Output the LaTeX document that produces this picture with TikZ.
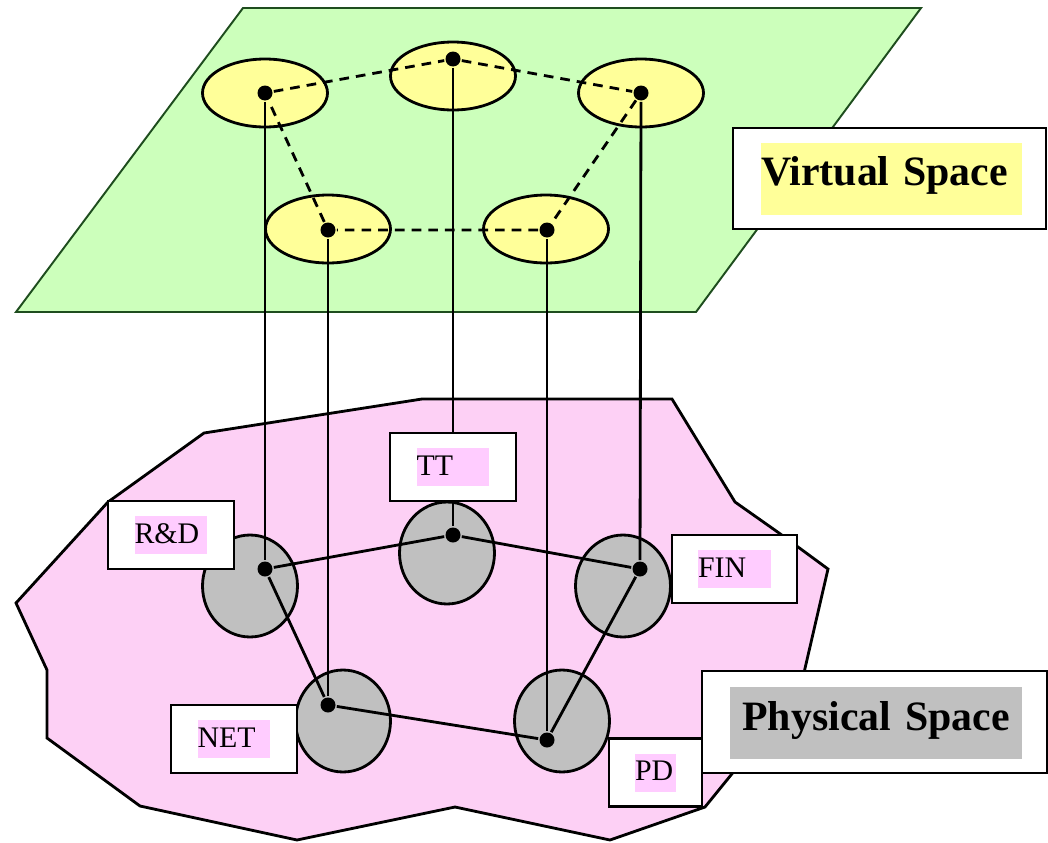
\documentclass[tikz,border=0pt]{standalone}
\usepackage{fontspec}
\setmainfont{Liberation Serif}
\usetikzlibrary{shapes.geometric}

\definecolor{planegreen}{HTML}{CCFFBB}
\definecolor{planeedge}{HTML}{1E4D1E}
\definecolor{unityellow}{HTML}{FFFF99}
\definecolor{areapink}{HTML}{FDD0F5}
\definecolor{tagpink}{HTML}{FFCCFF}
\definecolor{unitgray}{HTML}{C0C0C0}

\begin{document}
\begin{tikzpicture}[x = 0.02 cm, y = -0.02 cm, line width = 1.6 pt,
	vunit/.style = {ellipse, draw, fill = unityellow, minimum width = 2.5 cm, minimum height = 1.36 cm, inner sep = 0},
	punit/.style = {ellipse, draw, fill = unitgray, minimum width = 1.9 cm, minimum height = 2.04 cm, inner sep = 0},
	hub/.style = {circle, fill = black, minimum size = 0.3 cm, inner sep = 0},
	tagbox/.style = {draw, fill = white, minimum height = 1.36 cm},
	tagtext/.style = {fill = tagpink, font = \fontsize{17}{19}\selectfont, inner sep = 0, text width = #1, align = left, text height = 0.38 cm, text depth = 0.06 cm, minimum height = 0.76 cm},
	spacebox/.style = {draw, fill = white, minimum width = 6.26 cm, minimum height = 2.02 cm},
	spacetext/.style = {inner sep = 0, font = \fontsize{23.8}{28}\selectfont\bfseries, minimum height = 1.44 cm, text height = 0.6 cm}
]

	% Page size
	
	\useasboundingbox (0, 0) rectangle (1048, 842);
	
	% Virtual plane
	
	\fill [planegreen] (243, 8) -- (921, 8) -- (696, 312) -- (16, 312) -- cycle;
	\draw [planeedge, line width = 1.1 pt] (243, 8) -- (921, 8) -- (696, 312) -- (16, 312) -- cycle;
	
	\foreach \n/\x/\y in {RD/265/93, TT/453/76, FIN/641/93, NET/328/229, PD/546/229}
		\node [vunit] (v\n) at (\x, \y) {};
	
	% Physical area
	
	\draw [fill = areapink] (204, 433) -- (422, 399) -- (672, 399) -- (735, 502) -- (779, 533)
		-- (828, 569) -- (800, 690) -- (705, 807) -- (610, 840) -- (455, 807) -- (297, 840)
		-- (140, 806) -- (47, 738) -- (47, 670) -- (16, 603) -- (108, 502) -- cycle;
	
	\foreach \n/\x/\y in {RD/250/586, TT/447/553, FIN/623/586, NET/343/721, PD/562/721}
		\node [punit] (p\n) at (\x, \y) {};
	
	% Hubs
	
	\foreach \n/\x/\y in {RD/265/93, TT/453/59, FIN/641/93, NET/328/230, PD/547/230}
		\node [hub] (vd\n) at (\x, \y) {};
	
	\foreach \n/\x/\y in {RD/265/569, TT/453/535, FIN/640/569, NET/328/705, PD/547/740}
		\node [hub] (pd\n) at (\x, \y) {};
	
	% Links
	
	\draw [dash pattern = on 5.5 pt off 4 pt] (vdRD) -- (vdTT) -- (vdFIN) -- (vdPD) -- (vdNET) -- (vdRD);
	\draw (pdRD) -- (pdTT) -- (pdFIN) -- (pdPD) -- (pdNET) -- (pdRD);
	
	\foreach \n in {RD, TT, FIN, NET, PD}
		\draw (vd\n) -- (pd\n);
	
	% Tags
	
	\foreach \n/\x/\y/\w/\hw/\t in {RD/171/535/2.52/1.46/R\&D, TT/453/467/2.52/1.46/TT,
			FIN/734.5/569/2.5/1.46/FIN, NET/234/739/2.52/1.46/NET, PD/655.5/772.5/1.86/0.82/PD} {
		\node [tagbox, minimum width = \w cm] (t\n) at (\x, \y) {};
		\node [tagtext = \hw cm] at (t\n) {\t};
	}
	
	% Space labels
	
	\node [spacebox] (virtual) at (889.5, 178.5) {};
	\node [spacetext, fill = unityellow, text width = 5.22 cm, align = left, text depth = 0.36 cm] at (891.5, 179) {Virtual Space};
	
	\node [spacebox, minimum width = 6.9 cm, minimum height = 2.04 cm] (physical) at (874.5, 722) {};
	\node [spacetext, fill = unitgray, text width = 5.84 cm, align = center, text depth = 0.32 cm] at (876, 723) {Physical Space};
	
\end{tikzpicture}
\end{document}
